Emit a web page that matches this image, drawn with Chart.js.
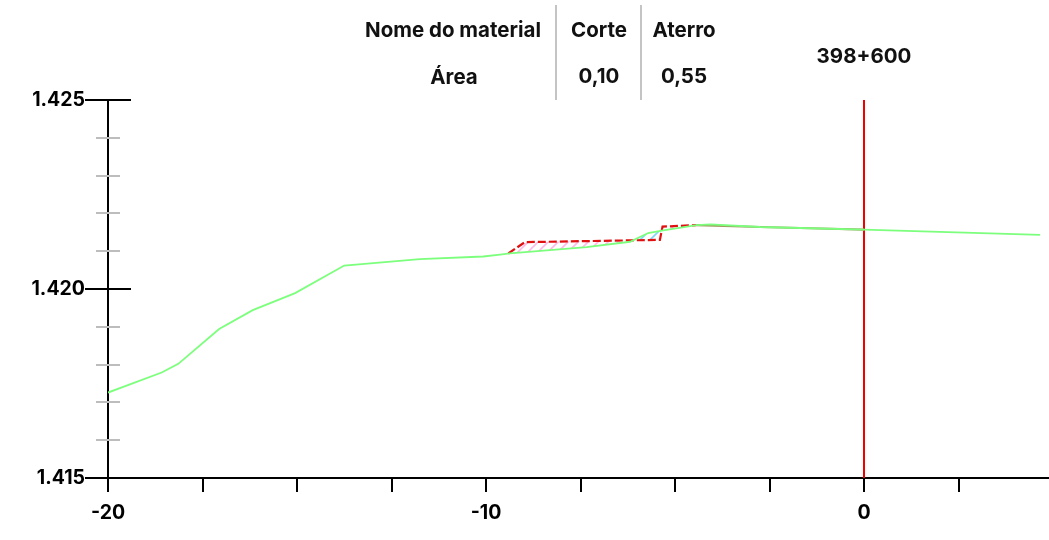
<!DOCTYPE html>
<html>
<head>
<meta charset="utf-8">
<script src="https://cdn.jsdelivr.net/npm/chart.js@4"></script>
<style>
  html, body { margin: 0; padding: 0; background: #fff; }
  #wrap { position: relative; width: 1049px; height: 540px; }
  .lbl {
    position: absolute;
    transform: translate(-50%, -50%);
    font: bold 20.5px Inter, "Liberation Sans", sans-serif;
    color: #111;
    white-space: nowrap;
  }
  .sep { position: absolute; top: 5px; width: 2px; height: 95px; background: #c4c4c4; }
</style>
</head>
<body>
<div id="wrap">
  <canvas id="chart"></canvas>
  <div class="lbl" style="left:453px; top:29px">Nome do material</div>
  <div class="lbl" style="left:599px; top:29px">Corte</div>
  <div class="lbl" style="left:684px; top:29px">Aterro</div>
  <div class="lbl" style="left:454px; top:76px">Área</div>
  <div class="lbl" style="left:599px; top:75px">0,10</div>
  <div class="lbl" style="left:684px; top:75px">0,55</div>
  <div class="sep" style="left:555px"></div>
  <div class="sep" style="left:640px"></div>
  <div class="lbl" style="left:864px; top:55px">398+600</div>
</div>
<script>
// terreno natural
const groundX = [-20, -18.58, -18.14, -17.06, -16.17, -15.05, -13.75, -11.75, -10.07, -9.63, -9.37,
  -7.34, -6.19, -5.71, -5.31, -4.43, -4.07, -2.75, -1.16, 0, 4.66];
const groundY = [1417.26, 1417.79, 1418.02, 1418.94, 1419.44, 1419.89, 1420.62, 1420.79, 1420.86, 1420.91, 1420.94,
  1421.11, 1421.25, 1421.48, 1421.55, 1421.69, 1421.71, 1421.64, 1421.60, 1421.57, 1421.43];

// greide / seção de projeto
const designX = [-9.41, -8.97, -5.40, -5.33, -4.43, -2.75, -1.16, 0];
const designY = [1420.94, 1421.24, 1421.30, 1421.65, 1421.69, 1421.64, 1421.60, 1421.57];

// eixo da estaca
const stationX = [0, 0];
const stationY = [1415, 1425];

const xTicks = [-20, -17.5, -15, -12.5, -10, -7.5, -5, -2.5, 0, 2.5];
const xLabels = [-20, -10, 0];
const yTicks = [1415, 1416, 1417, 1418, 1419, 1420, 1421, 1422, 1423, 1424, 1425];
const yMajor = [1415, 1420, 1425];

const toPts = (xs, ys) => xs.map((x, i) => ({ x: x, y: ys[i] }));

function hatch(color) {
  const c = document.createElement("canvas");
  c.width = c.height = 10;
  const g = c.getContext("2d");
  g.strokeStyle = color;
  g.lineWidth = 1.6;
  g.beginPath();
  g.moveTo(0, 10); g.lineTo(10, 0);
  g.moveTo(-5, 5); g.lineTo(5, -5);
  g.moveTo(5, 15); g.lineTo(15, 5);
  g.stroke();
  return g.createPattern(c, "repeat");
}

const font = { family: "Inter, 'Liberation Sans', sans-serif", size: 19.5, weight: "bold" };
const olive = "#a09a60";

// marcas do eixo y dos dois lados
const yTickMarks = {
  id: "yTickMarks",
  afterDraw(chart) {
    const ys = chart.scales.y, xs = chart.scales.x, ctx = chart.ctx;
    const ax = xs.left;
    ctx.save();
    ctx.lineWidth = 2;
    yTicks.forEach((v) => {
      const py = Math.round(ys.getPixelForValue(v));
      const major = yMajor.includes(v);
      const half = major ? 23 : 12;
      ctx.strokeStyle = major ? "#000" : "#bdbdbd";
      ctx.beginPath();
      ctx.moveTo(ax - half, py);
      ctx.lineTo(ax + half, py);
      ctx.stroke();
    });
    ctx.restore();
  },
};

new Chart(document.getElementById("chart"), {
  type: "line",
  data: {
    datasets: [
      {
        data: toPts(groundX, groundY),
        borderColor: "#7cff7c",
        borderWidth: 1.8,
        pointRadius: 0,
        fill: false,
      },
      {
        data: toPts(designX, designY),
        borderColor: "#e01010",
        borderWidth: 2.2,
        borderDash: [8, 3],
        pointRadius: 0,
        fill: { target: 0, above: hatch("#ffb8e8"), below: hatch("#7fd4ff") },
        segment: {
          borderColor: (c) => (c.p0.parsed.x >= -4.5 ? olive : undefined),
          borderDash: (c) => (c.p0.parsed.x >= -4.5 ? [] : undefined),
        },
      },
      {
        data: toPts(stationX, stationY),
        borderColor: "#f00000",
        borderWidth: 2,
        pointRadius: 0,
        fill: false,
      },
    ],
  },
  options: {
    responsive: true,
    maintainAspectRatio: false,
    animation: false,
    layout: { padding: { top: 100, left: 0, right: 0, bottom: 0 } },
    plugins: { legend: { display: false }, tooltip: { enabled: false } },
    scales: {
      x: {
        type: "linear",
        min: -20,
        max: 4.894,
        afterBuildTicks: (s) => { s.ticks = xTicks.map((v) => ({ value: v })); },
        afterFit: (s) => { s.height = 62; },
        grid: { drawOnChartArea: false, drawTicks: true, tickLength: 14, color: "#000", lineWidth: 2 },
        border: { display: true, color: "#000", width: 2 },
        ticks: {
          color: "#000",
          font: font,
          padding: 9,
          maxRotation: 0,
          autoSkip: false,
          callback: (v) => (xLabels.includes(v) ? String(v) : ""),
        },
      },
      y: {
        type: "linear",
        min: 1415,
        max: 1425,
        afterBuildTicks: (s) => { s.ticks = yTicks.map((v) => ({ value: v })); },
        afterFit: (s) => { s.width = 108; },
        grid: { display: false, drawTicks: false },
        border: { display: true, color: "#000", width: 2 },
        ticks: {
          color: "#000",
          font: font,
          padding: 23,
          autoSkip: false,
          callback: (v) => (yMajor.includes(v) ? (v / 1000).toFixed(3) : ""),
        },
      },
    },
  },
  plugins: [yTickMarks],
});
</script>
</body>
</html>
